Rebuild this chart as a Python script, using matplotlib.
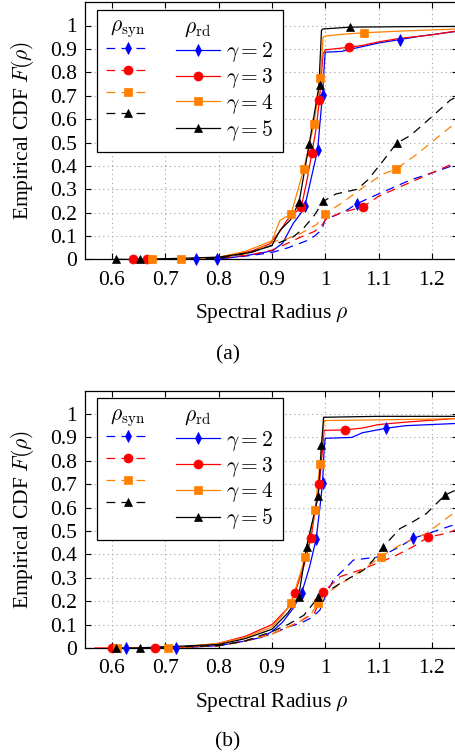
import numpy as np
import matplotlib
matplotlib.use('Agg')
import matplotlib.pyplot as plt
from matplotlib.lines import Line2D
from matplotlib.ticker import FixedLocator, FuncFormatter
from matplotlib import rcParams
rcParams['font.family'] = 'serif'
rcParams['font.serif'] = ['Liberation Serif', 'DejaVu Serif']
rcParams['mathtext.fontset'] = 'cm'
rcParams['font.size'] = 15.5

gammas = [2, 3, 4, 5]
colors = {2: '#0000ff', 3: '#ff0000', 4: '#ff8000', 5: '#000000'}
markers = {2: 'd', 3: 'o', 4: 's', 5: '^'}
msizes = {2: 5.8, 3: 6.5, 4: 6.0, 5: 5.5}

# ---------------- panel (a) ----------------
# rho_rd (solid) curves
a_rd_x = {
    2: [0.757, 0.797, 0.83, 0.86, 0.88, 0.902, 0.92, 0.94, 0.955, 0.962, 0.971, 0.978, 0.986, 0.99, 0.995, 0.998, 1.0,
        1.03, 1.05, 1.07, 1.1, 1.14, 1.18, 1.25],
    3: [0.64, 0.665, 0.75, 0.814, 0.864, 0.896, 0.915, 0.928, 0.955, 0.965, 0.975, 0.983, 0.989, 0.996, 1.0,
        1.045, 1.07, 1.1, 1.14, 1.2, 1.25],
    4: [0.676, 0.729, 0.8, 0.85, 0.871, 0.9, 0.915, 0.936, 0.96, 0.979, 0.991, 0.996, 1.0,
        1.03, 1.073, 1.15, 1.25],
    5: [0.607, 0.652, 0.8, 0.86, 0.9, 0.915, 0.935, 0.951, 0.97, 0.988, 0.993, 0.995, 1.047, 1.15, 1.25],
}
a_rd_y = {
    2: [0.0, 0.002, 0.01, 0.02, 0.028, 0.038, 0.07, 0.154, 0.2, 0.23, 0.32, 0.39, 0.47, 0.58, 0.705, 0.82, 0.886,
        0.889, 0.9, 0.91, 0.925, 0.94, 0.955, 0.976],
    3: [0.0, 0.0, 0.004, 0.01, 0.038, 0.067, 0.12, 0.167, 0.224, 0.33, 0.454, 0.56, 0.68, 0.879, 0.896,
        0.907, 0.915, 0.93, 0.945, 0.96, 0.978],
    4: [0.0, 0.0, 0.01, 0.035, 0.053, 0.08, 0.167, 0.195, 0.388, 0.58, 0.775, 0.95, 0.955,
        0.962, 0.969, 0.977, 0.985],
    5: [0.0, 0.0, 0.01, 0.03, 0.06, 0.124, 0.17, 0.245, 0.494, 0.736, 0.979, 0.985, 0.993, 0.995, 0.996],
}
a_rd_mx = {2: [0.797, 0.962, 0.986, 0.995, 1.14], 3: [0.665, 0.955, 0.975, 0.989, 1.045],
           4: [0.729, 0.936, 0.96, 0.979, 0.991, 1.073], 5: [0.652, 0.951, 0.97, 0.99, 1.047]}
a_rd_my = {2: [0.0, 0.23, 0.47, 0.705, 0.94], 3: [0.0, 0.224, 0.454, 0.68, 0.907],
           4: [0.0, 0.195, 0.388, 0.58, 0.775, 0.969], 5: [0.0, 0.245, 0.494, 0.744, 0.995]}

# rho_syn (dashed) curves
a_syn_x = {
    2: [0.757, 0.8, 0.86, 0.9, 0.93, 0.965, 0.98, 0.99, 0.995, 1.0, 1.02, 1.04, 1.059, 1.08, 1.1, 1.13, 1.16,
        1.2, 1.25],
    3: [0.64, 0.8, 0.86, 0.9, 0.93, 0.953, 0.98, 0.995, 1.0, 1.03, 1.07, 1.1, 1.15, 1.2, 1.25],
    4: [0.676, 0.8, 0.86, 0.909, 0.93, 0.953, 0.984, 1.0, 1.03, 1.072, 1.109, 1.132, 1.172, 1.234, 1.25],
    5: [0.607, 0.8, 0.86, 0.9, 0.939, 0.958, 0.98, 0.996, 1.02, 1.06, 1.08, 1.108, 1.134, 1.16, 1.2, 1.234,
        1.25],
}
a_syn_y = {
    2: [0.0, 0.003, 0.017, 0.03, 0.05, 0.08, 0.1, 0.12, 0.138, 0.17, 0.19, 0.21, 0.238, 0.26, 0.28, 0.31, 0.34,
        0.37, 0.41],
    3: [0.0, 0.005, 0.02, 0.04, 0.07, 0.095, 0.12, 0.15, 0.17, 0.2, 0.224, 0.27, 0.32, 0.37, 0.42],
    4: [0.0, 0.005, 0.03, 0.08, 0.09, 0.11, 0.15, 0.195, 0.24, 0.31, 0.366, 0.385, 0.45, 0.565, 0.58],
    5: [0.0, 0.005, 0.03, 0.06, 0.095, 0.13, 0.19, 0.248, 0.28, 0.30, 0.34, 0.42, 0.497, 0.53, 0.61, 0.68,
        0.7],
}
a_syn_mx = {2: [0.757, 1.059], 3: [0.64, 1.07], 4: [0.676, 1.0, 1.132], 5: [0.607, 0.996, 1.134]}
a_syn_my = {2: [0.0, 0.238], 3: [0.0, 0.224], 4: [0.0, 0.195, 0.385], 5: [0.0, 0.248, 0.497]}

# ---------------- panel (b) ----------------
b_rd_x = {
    2: [0.627, 0.721, 0.8, 0.85, 0.88, 0.9, 0.92, 0.94, 0.956, 0.971, 0.983, 0.99, 0.995, 0.998, 1.0,
        1.05, 1.07, 1.114, 1.15, 1.25],
    3: [0.568, 0.601, 0.681, 0.75, 0.8, 0.85, 0.9, 0.93, 0.943, 0.96, 0.973, 0.989, 0.995, 0.998,
        1.037, 1.07, 1.1, 1.15, 1.25],
    4: [0.61, 0.706, 0.8, 0.85, 0.9, 0.92, 0.936, 0.963, 0.981, 0.99, 0.996, 0.998, 1.1, 1.25],
    5: [0.607, 0.652, 0.8, 0.85, 0.9, 0.93, 0.95, 0.965, 0.987, 0.993, 0.997, 1.1, 1.25],
}
b_rd_y = {
    2: [0.0, 0.0, 0.01, 0.03, 0.045, 0.07, 0.11, 0.17, 0.236, 0.35, 0.466, 0.6, 0.704, 0.85, 0.896,
        0.9, 0.92, 0.939, 0.95, 0.96],
    3: [0.0, 0.0, 0.0, 0.005, 0.02, 0.05, 0.1, 0.17, 0.234, 0.35, 0.469, 0.70, 0.85, 0.93,
        0.932, 0.94, 0.955, 0.965, 0.982],
    4: [0.0, 0.0, 0.02, 0.045, 0.09, 0.14, 0.194, 0.39, 0.59, 0.786, 0.92, 0.972, 0.975, 0.98],
    5: [0.0, 0.0, 0.015, 0.04, 0.08, 0.15, 0.217, 0.433, 0.65, 0.868, 0.986, 0.99, 0.99],
}
b_rd_mx = {2: [0.721, 0.956, 0.983, 0.995, 1.114], 3: [0.601, 0.943, 0.973, 0.989, 1.037],
           4: [0.61, 0.936, 0.963, 0.981, 0.99], 5: [0.607, 0.95, 0.965, 0.987, 0.993]}
b_rd_my = {2: [0.0, 0.236, 0.466, 0.704, 0.939], 3: [0.0, 0.234, 0.469, 0.70, 0.932],
           4: [0.0, 0.194, 0.39, 0.59, 0.786], 5: [0.0, 0.217, 0.433, 0.65, 0.868]}

b_syn_x = {
    2: [0.627, 0.8, 0.85, 0.9, 0.93, 0.953, 0.975, 0.99, 1.0, 1.015, 1.053, 1.078, 1.103, 1.14, 1.165, 1.203,
        1.25],
    3: [0.681, 0.8, 0.85, 0.9, 0.95, 0.98, 0.996, 1.028, 1.065, 1.128, 1.165, 1.193, 1.228, 1.25],
    4: [0.706, 0.8, 0.85, 0.9, 0.95, 0.975, 0.987, 1.0, 1.021, 1.04, 1.08, 1.104, 1.14, 1.19, 1.24, 1.25],
    5: [0.652, 0.8, 0.85, 0.9, 0.93, 0.96, 0.987, 1.01, 1.028, 1.072, 1.09, 1.109, 1.14, 1.165, 1.19, 1.209,
        1.225, 1.25],
}
b_syn_y = {
    2: [0.0, 0.01, 0.03, 0.06, 0.09, 0.105, 0.13, 0.162, 0.22, 0.29, 0.376, 0.383, 0.39, 0.433, 0.469, 0.497,
        0.533],
    3: [0.0, 0.01, 0.03, 0.06, 0.11, 0.15, 0.238, 0.305, 0.333, 0.39, 0.433, 0.474, 0.49, 0.51],
    4: [0.0, 0.01, 0.03, 0.06, 0.11, 0.15, 0.194, 0.23, 0.262, 0.29, 0.35, 0.39, 0.44, 0.49, 0.575, 0.58],
    5: [0.0, 0.01, 0.03, 0.07, 0.1, 0.14, 0.217, 0.25, 0.276, 0.333, 0.376, 0.433, 0.51, 0.54, 0.575, 0.618,
        0.654, 0.68],
}
b_syn_mx = {2: [0.627, 1.165], 3: [0.681, 0.996, 1.193], 4: [0.706, 0.987, 1.104], 5: [0.652, 0.987, 1.109, 1.225]}
b_syn_my = {2: [0.0, 0.469], 3: [0.0, 0.238, 0.474], 4: [0.0, 0.194, 0.39], 5: [0.0, 0.217, 0.433, 0.654]}

x_ticks = [0.6, 0.7, 0.8, 0.9, 1.0, 1.1, 1.2]
y_ticks = [0.0, 0.1, 0.2, 0.3, 0.4, 0.5, 0.6, 0.7, 0.8, 0.9, 1.0]

DASH = (0, (7, 5))
LW = 0.9


def draw_panel(ax, syn_x, syn_y, syn_mx, syn_my, rd_x, rd_y, rd_mx, rd_my):
    for g in gammas:
        c = colors[g]
        ax.plot(syn_x[g], syn_y[g], color=c, lw=LW, linestyle=DASH, zorder=3)
        ax.plot(syn_mx[g], syn_my[g], linestyle='none', marker=markers[g], ms=msizes[g],
                color=c, mec=c, mew=0.5, zorder=4, clip_on=False)
        ax.plot(rd_x[g], rd_y[g], color=c, lw=LW, zorder=3)
        ax.plot(rd_mx[g], rd_my[g], linestyle='none', marker=markers[g], ms=msizes[g],
                color=c, mec=c, mew=0.5, zorder=4, clip_on=False)

    ax.set_xlim(0.55, 1.25)
    ax.set_ylim(0, 1.1)
    ax.xaxis.set_major_locator(FixedLocator(x_ticks))
    ax.yaxis.set_major_locator(FixedLocator(y_ticks))
    fmt = FuncFormatter(lambda v, p: f'{v:g}')
    ax.xaxis.set_major_formatter(fmt)
    ax.yaxis.set_major_formatter(fmt)
    ax.tick_params(direction='in', top=True, right=True, length=4, width=0.8)
    ax.tick_params(axis='x', pad=8)
    ax.tick_params(axis='y', pad=6)
    ax.grid(True, color='#a0a0a0', linestyle=(0, (1, 3)), lw=0.8)
    ax.set_axisbelow(True)
    for s in ax.spines.values():
        s.set_linewidth(0.9)
    ax.set_xlabel(r'Spectral Radius $\rho$', labelpad=9)
    ax.set_ylabel(r'Empirical CDF $F(\rho)$', labelpad=10)

    # legend: left column rho_syn (dashed), right column rho_rd (solid)
    blank = Line2D([], [], linestyle='none')
    hs, ls = [blank], [' ']
    for g in gammas:
        hs.append(Line2D([], [], color=colors[g], lw=LW, linestyle=DASH, marker=markers[g],
                         ms=msizes[g], mec=colors[g], mew=0.5))
        ls.append('')
    hs.append(blank)
    ls.append(' ')
    for g in gammas:
        hs.append(Line2D([], [], color=colors[g], lw=LW, marker=markers[g], ms=msizes[g],
                         mec=colors[g], mew=0.5))
        ls.append(r'$\gamma = %d$' % g)
    leg = ax.legend(hs, ls, ncol=2, loc='upper left', bbox_to_anchor=(0.031, 0.971),
                    borderaxespad=0, numpoints=1, handlelength=2.05, handletextpad=0.3,
                    columnspacing=0.65, labelspacing=0.08, borderpad=0.42, fancybox=False,
                    framealpha=1, edgecolor='black')
    leg.get_frame().set_linewidth(0.9)
    leg.set_zorder(10)
    return leg


fig = plt.figure(figsize=(4.56, 7.55), dpi=100)
ax_a = fig.add_axes([85.3 / 456, (755 - 259.5) / 755, 373.2 / 456, 257.4 / 755])
ax_b = fig.add_axes([85.3 / 456, (755 - 648) / 755, 373.2 / 456, 257.4 / 755])

leg_a = draw_panel(ax_a, a_syn_x, a_syn_y, a_syn_mx, a_syn_my, a_rd_x, a_rd_y, a_rd_mx, a_rd_my)
leg_b = draw_panel(ax_b, b_syn_x, b_syn_y, b_syn_mx, b_syn_my, b_rd_x, b_rd_y, b_rd_mx, b_rd_my)

fig.text(0.5, 1 - 355 / 755, '(a)', ha='center', va='center')
fig.text(0.5, 1 - 742 / 755, '(b)', ha='center', va='center')

# column headers over the legend handles
fig.canvas.draw()
renderer = fig.canvas.get_renderer()
for leg in (leg_a, leg_b):
    hl = leg.legend_handles
    for idx, txt in ((0, r'$\rho_{\mathrm{syn}}$'), (5, r'$\rho_{\mathrm{rd}}$')):
        row = hl[idx].get_window_extent(renderer)
        col = hl[idx + 1].get_window_extent(renderer)
        xc = 0.5 * (col.x0 + col.x1) / fig.bbox.width
        yc = (0.5 * (row.y0 + row.y1) - 3) / fig.bbox.height
        fig.text(xc, yc, txt, ha='center', va='center', zorder=20)

fig.savefig('out.png', dpi=100)
